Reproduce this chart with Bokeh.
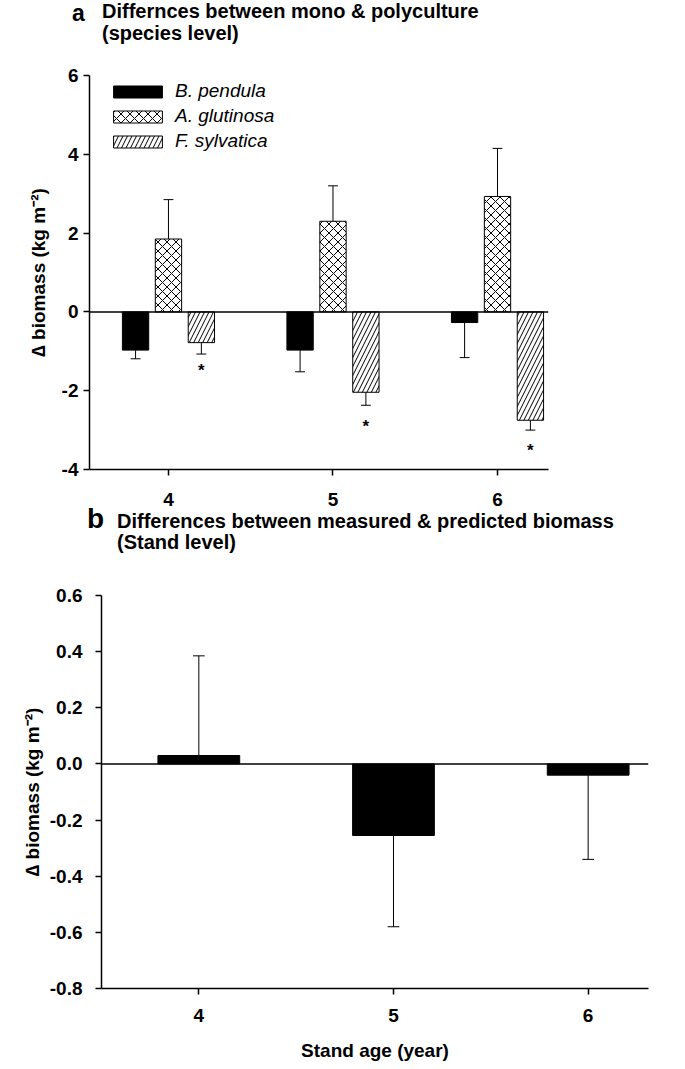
import numpy as np
from bokeh.plotting import figure
from bokeh.layouts import column, row
from bokeh.models import Range1d, Span, Legend, LegendItem, FixedTicker, Div
from bokeh.core.properties import value
from bokeh.embed import file_html
from bokeh.resources import INLINE

# ---------------- data ----------------
ages = [4, 5, 6]
species = ["B. pendula", "A. glutinosa", "F. sylvatica"]
b_pendula = [-0.97, -0.97, -0.27]
b_pendula_err = [0.22, 0.55, 0.89]
a_glutinosa = [1.85, 2.30, 2.93]
a_glutinosa_err = [1.00, 0.90, 1.22]
f_sylvatica = [-0.78, -2.04, -2.75]
f_sylvatica_err = [0.29, 0.33, 0.25]
sig_star_y = [-1.42, -2.82, -3.44]
stand = [0.03, -0.255, -0.04]
stand_err = [0.355, 0.325, 0.30]
yticks_a = [-4, -2, 0, 2, 4, 6]
yticklabels_a = ["-4", "-2", "0", "2", "4", "6"]
yticks_b = [-0.8, -0.6, -0.4, -0.2, 0.0, 0.2, 0.4, 0.6]
yticklabels_b = ["-0.8", "-0.6", "-0.4", "-0.2", "0.0", "0.2", "0.4", "0.6"]
title_a = ["Differnces between mono & polyculture", "(species level)"]
title_b = ["Differences between measured & predicted biomass", "(Stand level)"]

FONT = "Liberation Sans"
TICK_FS = "19px"
LAB_FS = "19px"
TITLE_FS = 20
W = 669


def style(p):
    p.outline_line_color = None
    p.xgrid.visible = False
    p.ygrid.visible = False
    for ax in (p.xaxis, p.yaxis):
        ax.axis_line_width = 1.5
        ax.axis_line_color = "black"
        ax.major_tick_line_width = 1.5
        ax.major_tick_line_color = "black"
        ax.major_tick_out = 6
        ax.major_tick_in = 0
        ax.minor_tick_line_color = None
        ax.major_label_text_font = FONT
        ax.major_label_text_font_style = "bold"
        ax.major_label_text_font_size = TICK_FS
        ax.major_label_text_color = "black"
        ax.axis_label_text_font = FONT
        ax.axis_label_text_font_style = "bold"
        ax.axis_label_text_font_size = LAB_FS
        ax.axis_label_text_color = "black"


def err_bars(p, xs, vals, errs, cap):
    x0, y0, x1, y1 = [], [], [], []
    for x, v, e in zip(xs, vals, errs):
        end = v + (e if v >= 0 else -e)
        x0 += [x, x - cap]
        y0 += [v, end]
        x1 += [x, x + cap]
        y1 += [end, end]
    p.segment(x0=x0, y0=y0, x1=x1, y1=y1, line_color="black", line_width=1)


def esc(s):
    return s.replace("&", "&amp;").replace("<", "&lt;")


def title_div(h, letter, lines, lx, ltop, lfs, llh, tx, tops):
    span = ('<span style="position:absolute;left:{}px;top:{}px;font-size:{}px;'
            'line-height:{};white-space:nowrap;">{}</span>')
    html = ('<div style="position:relative;width:{}px;height:{}px;font-family:\'{}\';'
            'font-weight:bold;color:#000;">').format(W, h, FONT)
    html += span.format(lx, ltop, lfs, llh, esc(letter))
    for t, top in zip(lines, tops):
        html += span.format(tx, top, TITLE_FS, 1, esc(t))
    html += "</div>"
    return Div(text=html, width=W, height=h, margin=(0, 0, 0, 0),
               styles={"overflow": "visible"})


# ---------------- title a ----------------
ta = title_div(57, "a", title_a, 72, 2, 23, 1, 102, [1, 23])

# ---------------- panel a ----------------
pa = figure(width=W, height=460, output_backend="svg", toolbar_location=None,
            x_range=Range1d(3.52, 6.31), y_range=Range1d(-4, 6),
            min_border_left=89, min_border_right=121, min_border_top=18, min_border_bottom=48)
style(pa)
pa.xaxis.ticker = FixedTicker(ticks=ages)
pa.yaxis.ticker = FixedTicker(ticks=yticks_a)
pa.yaxis.major_label_overrides = {t: l for t, l in zip(yticks_a, yticklabels_a)}
pa.xaxis.major_label_standoff = 17
pa.yaxis.axis_label = "\u2206 biomass (kg m\u207b\u00b2)"
pa.yaxis.axis_label_standoff = 10
pa.yaxis.major_label_standoff = 5

bw = 0.16
off = 0.2
xs_b = [a - off for a in ages]
xs_a = list(ages)
xs_f = [a + off for a in ages]
r1 = pa.vbar(x=xs_b, top=b_pendula, bottom=0, width=bw, fill_color="black", line_color="black")
r2 = pa.vbar(x=xs_a, top=a_glutinosa, bottom=0, width=bw, fill_color="white", line_color="black",
             hatch_pattern="diagonal_cross", hatch_color="black", hatch_scale=9, hatch_weight=1)
r3 = pa.vbar(x=xs_f, top=f_sylvatica, bottom=0, width=bw, fill_color="white", line_color="black",
             hatch_pattern="right_diagonal_line", hatch_color="black", hatch_scale=9, hatch_weight=1)
err_bars(pa, xs_b, b_pendula, b_pendula_err, 0.03)
err_bars(pa, xs_a, a_glutinosa, a_glutinosa_err, 0.03)
err_bars(pa, xs_f, f_sylvatica, f_sylvatica_err, 0.03)
pa.add_layout(Span(location=0, dimension="width", line_color="black", line_width=1.5))
pa.text(x=xs_f, y=sig_star_y, text=["*"] * 3, text_font=value(FONT), text_font_style="bold",
        text_font_size="17px", text_align="center", text_baseline="alphabetic", y_offset=3,
        text_color="black")

leg = Legend(items=[LegendItem(label=species[0], renderers=[r1]),
                    LegendItem(label=species[1], renderers=[r2]),
                    LegendItem(label=species[2], renderers=[r3])],
             location=(18, 317), padding=0, margin=0, spacing=3,
             glyph_width=61, glyph_height=15, label_height=20,
             label_text_font=FONT, label_text_font_style="italic", label_text_font_size="19px",
             label_text_color="black",
             label_standoff=7, border_line_color=None, background_fill_alpha=0)
pa.add_layout(leg)

# ---------------- title b ----------------
tb = title_div(60, "b", title_b, 87, -8, 28, 0.7, 117, [-6, 15])

# ---------------- panel b ----------------
pb = figure(width=W, height=490, output_backend="svg", toolbar_location=None,
            x_range=Range1d(3.5, 6.31), y_range=Range1d(-0.8, 0.6),
            min_border_left=101, min_border_right=21, min_border_top=18, min_border_bottom=79)
style(pb)
pb.xaxis.ticker = FixedTicker(ticks=ages)
pb.yaxis.ticker = FixedTicker(ticks=yticks_b)
pb.yaxis.major_label_overrides = {t: l for t, l in zip(yticks_b, yticklabels_b)}
pb.xaxis.major_label_standoff = 14
pb.xaxis.axis_label = "Stand age (year)"
pb.xaxis.axis_label_standoff = 15
pb.yaxis.axis_label = "\u2206 biomass (kg m\u207b\u00b2)"
pb.yaxis.axis_label_standoff = 4
pb.yaxis.major_label_standoff = 13

pb.vbar(x=ages, top=stand, bottom=0, width=0.42, fill_color="black", line_color="black")
err_bars(pb, ages, stand, stand_err, 0.03)
pb.add_layout(Span(location=0, dimension="width", line_color="black", line_width=1.5))

layout = column(ta, row(pa), tb, row(pb), spacing=0)
open("out.html", "w").write(file_html(layout, INLINE))
